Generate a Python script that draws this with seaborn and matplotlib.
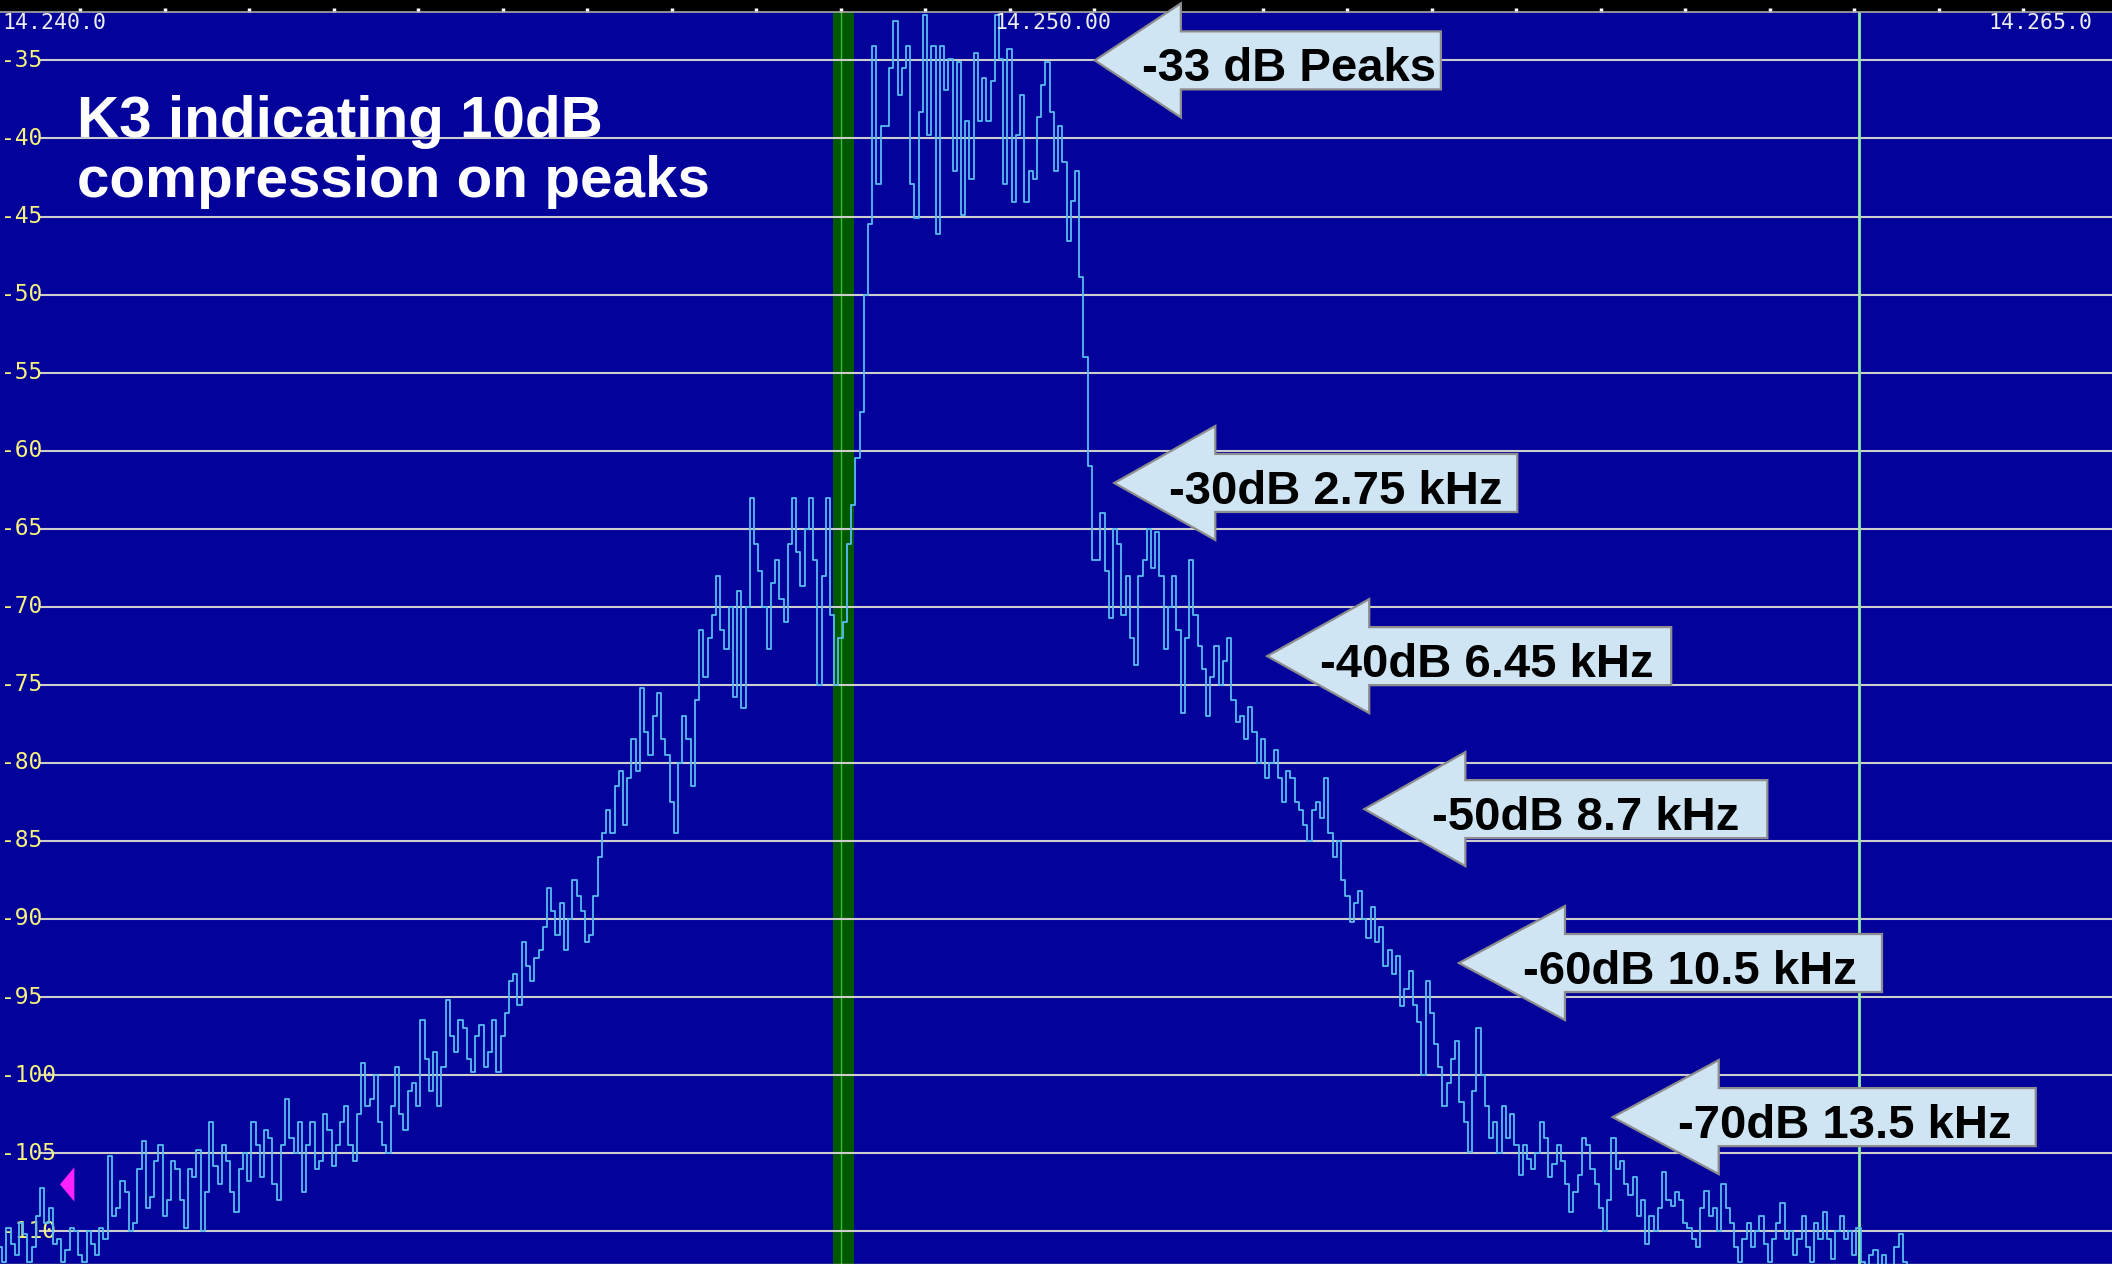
import numpy as np
import pandas as pd
import matplotlib
matplotlib.use("Agg")
import matplotlib.pyplot as plt
from matplotlib.patches import Polygon
from matplotlib.transforms import IdentityTransform, blended_transform_factory
import seaborn as sns

# ---------------- data ----------------
# spectrum level in dB, one value every 0.05 kHz, one list per kHz
BIN_KHZ = 0.05
DB_14240 = [-111.0, -112.0, -109.8, -110.8, -111.5, -109.5, -110.2, -112.0, -111.0, -109.0,
            -107.2, -109.5, -108.5, -110.8, -110.5, -112.0, -111.2, -109.8, -110.0, -111.5]
DB_14241 = [-112.0, -110.0, -110.8, -111.5, -109.8, -110.5, -105.2, -109.0, -108.5, -106.8,
            -107.5, -110.0, -109.5, -106.0, -104.2, -108.5, -107.8, -105.5, -104.5, -109.0]
DB_14242 = [-108.0, -105.5, -106.0, -108.0, -109.8, -106.0, -106.5, -104.8, -110.0, -107.5,
            -103.0, -105.8, -107.0, -104.5, -105.5, -107.5, -108.8, -106.0, -105.0, -106.8]
DB_14243 = [-103.0, -104.5, -106.5, -103.5, -104.0, -107.0, -108.0, -104.5, -101.5, -104.0,
            -105.0, -103.0, -107.5, -104.5, -103.0, -106.0, -105.5, -102.5, -103.5, -105.8]
DB_14244 = [-104.5, -103.0, -102.0, -104.5, -105.5, -102.5, -99.2, -102.0, -101.5, -100.0,
            -103.0, -104.5, -105.0, -102.0, -99.5, -102.5, -103.5, -101.0, -100.5, -102.0]
DB_14245 = [-96.5, -99.0, -101.0, -98.5, -102.0, -99.5, -95.2, -97.5, -98.5, -96.5,
            -97.0, -99.0, -99.8, -97.5, -96.8, -99.5, -98.5, -96.5, -99.8, -97.5]
DB_14246 = [-96.0, -94.0, -93.5, -95.5, -91.5, -93.0, -94.0, -92.5, -92.0, -90.5,
            -88.0, -89.5, -91.0, -89.0, -92.0, -90.0, -87.5, -88.5, -89.5, -91.5]
DB_14247 = [-91.0, -88.5, -86.0, -84.5, -83.0, -84.5, -81.5, -80.5, -84.0, -81.0,
            -78.5, -80.5, -75.2, -78.0, -79.5, -77.0, -75.5, -78.5, -79.5, -82.5]
DB_14248 = [-84.5, -80.0, -77.0, -78.5, -81.5, -76.0, -71.5, -74.5, -72.0, -70.5,
            -68.0, -71.5, -72.7, -70.0, -75.8, -69.0, -76.5, -70.0, -63.0, -66.0]
DB_14249 = [-67.7, -70.0, -72.7, -68.5, -67.0, -69.5, -71.0, -66.0, -63.0, -66.5,
            -68.7, -65.0, -63.0, -67.0, -75.0, -68.0, -63.0, -70.5, -75.0, -72.0]
DB_14250 = [-71.0, -66.0, -63.5, -60.5, -57.5, -50.0, -45.5, -34.1, -42.9, -39.2,
            -39.2, -35.5, -32.5, -37.2, -35.5, -34.1, -42.9, -45.1, -38.3, -32.1]
DB_14251 = [-39.8, -34.1, -46.1, -34.1, -36.9, -34.9, -42.1, -35.1, -44.9, -38.9,
            -42.6, -34.5, -38.9, -36.1, -38.9, -36.3, -32.1, -34.9, -42.9, -34.3]
DB_14252 = [-44.1, -39.8, -37.2, -44.1, -42.1, -42.6, -38.6, -36.6, -35.1, -38.3,
            -42.1, -39.2, -41.5, -46.6, -44.0, -42.1, -48.9, -54.0, -61.0, -67.0]
DB_14253 = [-67.0, -64.0, -67.7, -70.7, -65.0, -66.0, -70.5, -68.0, -72.0, -73.7,
            -68.0, -67.0, -65.0, -67.5, -65.2, -68.0, -72.7, -70.0, -68.0, -71.5]
DB_14254 = [-76.8, -72.0, -67.0, -70.5, -72.5, -74.0, -77.0, -74.5, -72.5, -75.0,
            -73.5, -72.0, -76.0, -77.4, -77.0, -78.5, -76.4, -78.0, -80.0, -78.5]
DB_14255 = [-81.0, -80.0, -79.2, -81.0, -82.5, -80.5, -81.0, -82.5, -83.0, -84.0,
            -85.0, -83.0, -82.5, -83.5, -81.0, -84.5, -86.0, -85.0, -87.5, -88.5]
DB_14256 = [-90.2, -89.0, -88.2, -90.0, -91.2, -89.2, -91.5, -90.5, -93.0, -92.0,
            -93.5, -92.4, -95.6, -94.5, -93.3, -95.5, -96.6, -100.0, -94.0, -96.0]
DB_14257 = [-98.0, -99.5, -102.0, -100.5, -99.0, -97.8, -101.7, -103.0, -104.9, -101.0,
            -97.0, -100.0, -102.0, -104.0, -103.0, -105.0, -102.0, -104.0, -102.5, -104.5]
DB_14258 = [-106.4, -104.5, -105.4, -106.0, -105.0, -103.0, -104.0, -106.5, -105.7, -104.5,
            -105.5, -107.0, -108.8, -107.5, -106.4, -104.0, -104.5, -106.0, -107.0, -108.5]
DB_14259 = [-110.0, -108.0, -104.0, -106.0, -105.5, -107.0, -107.7, -106.5, -109.0, -108.0,
            -110.8, -109.0, -110.0, -108.5, -106.2, -108.0, -108.4, -107.5, -108.0, -109.5]
DB_14260 = [-109.8, -110.5, -111.0, -108.5, -107.4, -109.0, -108.5, -110.0, -107.0, -108.5,
            -109.5, -111.0, -112.0, -110.5, -109.5, -111.0, -110.0, -109.0, -110.8, -112.0]
DB_14261 = [-110.5, -109.5, -108.2, -110.5, -110.0, -111.5, -110.5, -109.0, -111.0, -112.0,
            -109.5, -110.5, -108.8, -110.5, -111.8, -110.0, -109.0, -110.5, -110.0, -111.5]
DB_14262 = [-109.8, -112.0, -113.0, -111.5, -111.2, -112.5, -111.5, -113.0, -113.0, -111.0,
            -110.2, -112.0, -113.5, -114.0]
TRACE_ROWS = {14240: DB_14240, 14241: DB_14241, 14242: DB_14242, 14243: DB_14243,
              14244: DB_14244, 14245: DB_14245, 14246: DB_14246, 14247: DB_14247,
              14248: DB_14248, 14249: DB_14249, 14250: DB_14250, 14251: DB_14251,
              14252: DB_14252, 14253: DB_14253, 14254: DB_14254, 14255: DB_14255,
              14256: DB_14256, 14257: DB_14257, 14258: DB_14258, 14259: DB_14259,
              14260: DB_14260, 14261: DB_14261, 14262: DB_14262}

Y_TICKS = [-35, -40, -45, -50, -55, -60, -65, -70, -75, -80, -85, -90, -95, -100, -105, -110]
Y_TICK_LABELS = ["-35", "-40", "-45", "-50", "-55", "-60", "-65", "-70", "-75", "-80",
                 "-85", "-90", "-95", "-100", "-105", "-110"]
X_MIN_KHZ, X_MAX_KHZ = 14240.0, 14265.0
X_LABELS = ["14.240.0", "14.250.00", "14.265.0"]
TITLE_LINES = ["K3 indicating 10dB", "compression on peaks"]

ANNOT_TEXT = ["-33 dB Peaks", "-30dB 2.75 kHz", "-40dB 6.45 kHz",
              "-50dB 8.7 kHz", "-60dB 10.5 kHz", "-70dB 13.5 kHz"]
ANNOT_FREQ = [14252.96, 14253.19, 14255.00, 14256.15, 14257.27, 14259.09]
ANNOT_DB = [-35.0, -62.07, -73.16, -82.96, -92.82, -102.69]

VFO_BAND_KHZ = (14249.86, 14250.11)
VFO_LINE_KHZ = 14249.96
MARKER_LINE_KHZ = 14262.0
REF_MARK = ([14240.71, 14240.88, 14240.88], [-107.0, -105.9, -108.1])

# ---------------- layout / style ----------------
W, H = 2112, 1264
TOP_STRIP = 12
BG = "#03039c"

freq_list, level_list = [], []
for khz, row in TRACE_ROWS.items():
    for i, v in enumerate(row):
        freq_list.append(khz + BIN_KHZ * i)
        level_list.append(v)
df = pd.DataFrame({"freq": freq_list, "level": level_list})

fig = plt.figure(figsize=(W / 100, H / 100), dpi=100, facecolor="black")
ax = fig.add_axes([0, 0, 1, (H - TOP_STRIP) / H])
ax.set_facecolor(BG)
ax.set_xlim(X_MIN_KHZ, X_MAX_KHZ)
ax.set_ylim(-112.1, -31.9)

# vfo passband marker
ax.axvspan(*VFO_BAND_KHZ, color="#005800", lw=0, zorder=1.0)
ax.axvline(VFO_LINE_KHZ, color="#3cba3c", lw=1.0, zorder=1.1)

# horizontal grid
for yv in Y_TICKS:
    ax.axhline(yv, xmin=40 / W, xmax=1, color="#cdcdcd", lw=1.5, zorder=1.5)

# second marker line
ax.axvline(MARKER_LINE_KHZ, color="#8ef0a8", lw=2.0, zorder=2.5)

# y labels
ytrans = blended_transform_factory(ax.transAxes, ax.transData)
for yv, lab in zip(Y_TICKS, Y_TICK_LABELS):
    ax.text(1 / W, yv, lab, transform=ytrans, ha="left", va="center",
            fontfamily="DejaVu Sans Mono", fontsize=16.5, color="#f6f27c", zorder=2.8)

# trace
sns.lineplot(data=df, x="freq", y="level", ax=ax, color="#57bdf0", lw=1.3,
             drawstyle="steps-mid", estimator=None, legend=False, zorder=3)

# reference marker
ax.fill(REF_MARK[0], REF_MARK[1], color="#ff22ff", lw=0, zorder=4)

# axes cosmetics
ax.set_xlabel("")
ax.set_ylabel("")
ax.xaxis.set_ticks_position("top")
ax.set_xticks(np.arange(14241, 14265) - 0.05)
ax.tick_params(axis="x", direction="out", length=3, width=2.5, color="white",
               labeltop=False, labelbottom=False)
ax.set_yticks([])
for side in ("left", "right"):
    ax.spines[side].set_visible(False)
ax.spines["top"].set_color("#a8a8a8")
ax.spines["top"].set_linewidth(1.2)
ax.spines["bottom"].set_color("#b8b890")
ax.spines["bottom"].set_linewidth(1.0)

# frequency labels (inside, top)
ylab = 1 - (23 - TOP_STRIP) / (H - TOP_STRIP)
lab_kw = dict(transform=ax.transAxes, va="center", fontfamily="DejaVu Sans Mono",
              fontsize=15.5, color="#eeeeee", zorder=4)
ax.text(2 / W, ylab, X_LABELS[0], ha="left", **lab_kw)
ax.text(1053 / W, ylab, X_LABELS[1], ha="center", **lab_kw)
ax.text(2092 / W, ylab, X_LABELS[2], ha="right", **lab_kw)

# title text
title_font = dict(family=["Liberation Sans", "DejaVu Sans"], weight="bold", size=42, color="white")
fig.text(77 / W, 1 - 137 / H, TITLE_LINES[0], ha="left", va="baseline", **title_font)
fig.text(77 / W, 1 - 197 / H, TITLE_LINES[1], ha="left", va="baseline", **title_font)

# arrow call-outs (geometry in pixels: head length, body length, text centre offset)
ARROW_GEOM = [(86, 346, 194), (101, 403, 221), (102, 404, 220),
              (101, 403, 221), (106, 423, 231), (106, 423, 232)]
HEAD_HALF, BODY_HALF = 57, 29
for txt, fx, fy, (hl, L, toff) in zip(ANNOT_TEXT, ANNOT_FREQ, ANNOT_DB, ARROW_GEOM):
    tx, ty = ax.transData.transform((fx, fy))
    verts = [(tx, ty), (tx + hl, ty + HEAD_HALF), (tx + hl, ty + BODY_HALF),
             (tx + L, ty + BODY_HALF), (tx + L, ty - BODY_HALF),
             (tx + hl, ty - BODY_HALF), (tx + hl, ty - HEAD_HALF)]
    poly = Polygon(verts, closed=True, transform=IdentityTransform(),
                   facecolor="#cfe5f4", edgecolor="#8e8e8e", lw=1.6, zorder=5)
    fig.add_artist(poly)
    fig.text(tx + toff, ty - 21, txt, transform=IdentityTransform(), ha="center",
             va="baseline", family=["Liberation Sans", "DejaVu Sans"], weight="bold",
             size=34, color="black", zorder=6)

fig.savefig("out.png", dpi=100, facecolor="black")
